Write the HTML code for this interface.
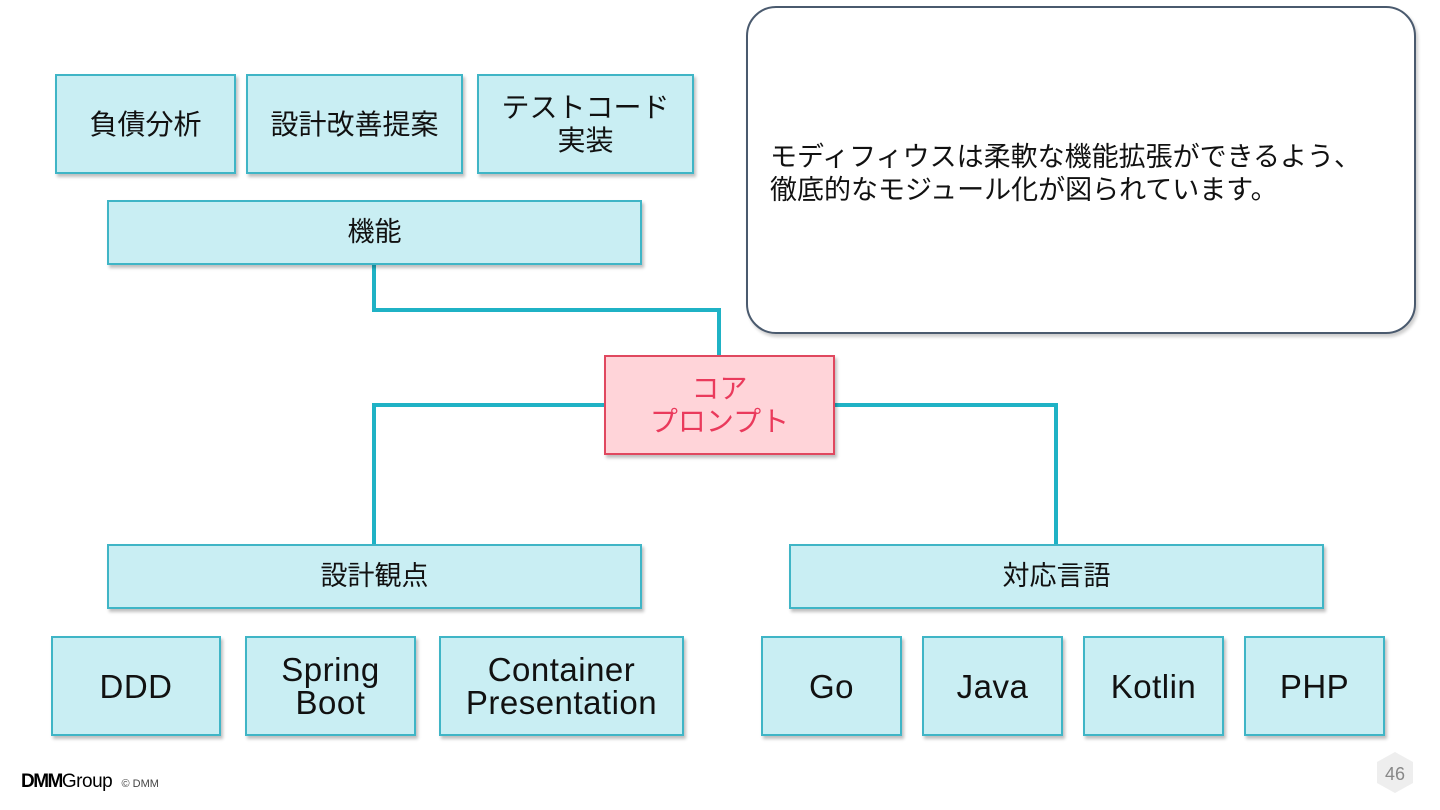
<!DOCTYPE html>
<html><head><meta charset="utf-8"><style>
body{margin:0;width:1440px;height:810px;background:#fff;position:relative;overflow:hidden;font-family:"Liberation Sans","Noto Sans CJK JP",sans-serif;}
.b{position:absolute;box-sizing:border-box;background:#c9eef3;border:2px solid #3fb5c6;box-shadow:2px 3px 3px rgba(0,0,0,0.25);display:flex;align-items:center;justify-content:center;text-align:center;color:#111;font-size:28px;line-height:33px;}
.e{font-size:33px;line-height:33px;letter-spacing:0.5px;}
</style></head><body>
<svg width="1440" height="810" style="position:absolute;left:0;top:0">
<g fill="none" stroke="#1fb2c5" stroke-width="4">
<polyline points="374,265 374,310 719,310 719,355"/>
<polyline points="374,544 374,405 604,405"/>
<polyline points="835,405 1056,405 1056,544"/>
</g>
<polygon points="1395,752 1413,762 1413,783 1395,793 1377,783 1377,762" fill="#eee"/>
<text x="1395" y="780" font-size="18" fill="#888" text-anchor="middle" font-family="Liberation Sans">46</text>
</svg>
<div class="b" style="left:55px;top:74px;width:181px;height:100px">負債分析</div>
<div class="b" style="left:246px;top:74px;width:217px;height:100px">設計改善提案</div>
<div class="b" style="left:477px;top:74px;width:217px;height:100px">テストコード<br>実装</div>
<div class="b" style="left:107px;top:200px;width:535px;height:65px;font-size:27px">機能</div>
<div style="position:absolute;left:746px;top:6px;width:670px;height:328px;box-sizing:border-box;border:2px solid #4a5a6e;border-radius:30px;background:#fff;box-shadow:2px 3px 3px rgba(0,0,0,0.2);padding:133px 0 0 22px;font-size:27px;line-height:33px;color:#111">モディフィウスは柔軟な機能拡張ができるよう、<br>徹底的なモジュール化が図られています。</div>
<div class="b" style="left:604px;top:355px;width:231px;height:100px;background:#ffd4d9;border-color:#e0485f;color:#ea3a5c;font-size:28px">コア<br>プロンプト</div>
<div class="b" style="left:107px;top:544px;width:535px;height:65px;font-size:27px">設計観点</div>
<div class="b" style="left:789px;top:544px;width:535px;height:65px;font-size:27px">対応言語</div>
<div class="b e" style="left:51px;top:636px;width:170px;height:100px">DDD</div>
<div class="b e" style="left:245px;top:636px;width:171px;height:100px">Spring<br>Boot</div>
<div class="b e" style="left:439px;top:636px;width:245px;height:100px">Container<br>Presentation</div>
<div class="b e" style="left:761px;top:636px;width:141px;height:100px">Go</div>
<div class="b e" style="left:922px;top:636px;width:141px;height:100px">Java</div>
<div class="b e" style="left:1083px;top:636px;width:141px;height:100px">Kotlin</div>
<div class="b e" style="left:1244px;top:636px;width:141px;height:100px">PHP</div>
<div style="position:absolute;left:21px;top:771px;font-size:19px;color:#000"><b style="letter-spacing:-1.5px">DMM</b><span style="letter-spacing:-0.5px">Group</span> <span style="font-size:11px;color:#444;margin-left:4px">© DMM</span></div>
</body></html>
